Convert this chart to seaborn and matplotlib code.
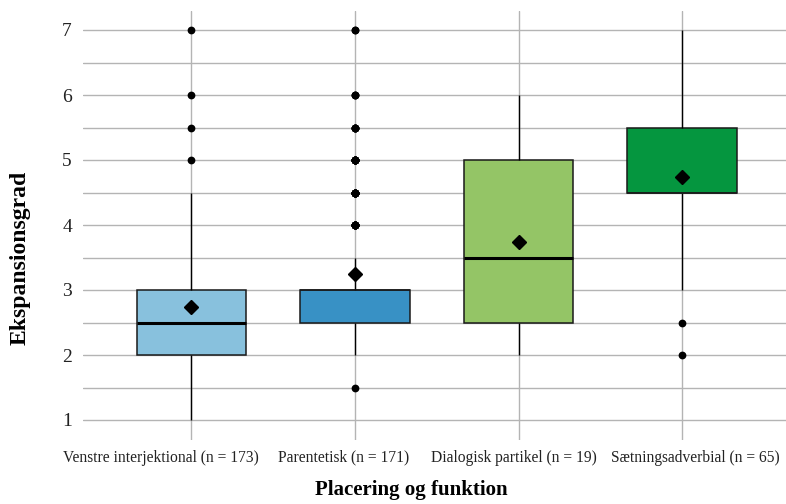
import numpy as np
import pandas as pd
import matplotlib
matplotlib.use("Agg")
import matplotlib.pyplot as plt
import seaborn as sns

# Rating scale (steps of 0.5) and how many tokens got each score per category
scale = [1, 1.5, 2, 2.5, 3, 3.5, 4, 4.5, 5, 5.5, 6, 6.5, 7]
categories = [
    "Venstre interjektional (n = 173)",
    "Parentetisk (n = 171)",
    "Dialogisk partikel (n = 19)",
    "Sætningsadverbial (n = 65)",
]
counts_venstre = [3, 7, 50, 30, 50, 10, 15, 4, 1, 1, 1, 0, 1]
counts_parentetisk = [0, 1, 15, 28, 85, 4, 9, 10, 9, 5, 3, 0, 2]
counts_dialogisk = [0, 0, 2, 4, 2, 4, 0, 1, 3, 1, 2, 0, 0]
counts_saetning = [0, 0, 1, 1, 2, 3, 6, 21, 11, 15, 3, 1, 1]
colors = ["#88C1DD", "#3891C5", "#94C566", "#05963F"]

# horizontal nudges (pixels) of the category labels so they sit side by side
label_shift = [-30, -11, -5, 13]

all_counts = [counts_venstre, counts_parentetisk, counts_dialogisk, counts_saetning]
frames = []
for cat, cnt in zip(categories, all_counts):
    vals = np.repeat(scale, cnt)
    frames.append(pd.DataFrame({"Placering": cat, "Ekspansionsgrad": vals}))
df = pd.concat(frames, ignore_index=True)

sns.set_theme(style="white")
plt.rcParams["font.family"] = ["Liberation Serif", "DejaVu Serif"]

fig = plt.figure(figsize=(7.86, 5.04), dpi=100)
ax = fig.add_axes([83 / 786, 64.5 / 504, 703 / 786, 429 / 504])

sns.boxplot(
    data=df, x="Placering", y="Ekspansionsgrad", hue="Placering",
    order=categories, hue_order=categories, palette=colors, legend=False,
    width=0.668, linecolor="#1a1a1a", linewidth=1.1, saturation=1,
    showcaps=False, showmeans=True,
    meanprops=dict(marker="D", markerfacecolor="black", markeredgecolor="black",
                   markersize=7.5),
    flierprops=dict(marker="o", markerfacecolor="black", markeredgewidth=0,
                    markersize=5.6),
    medianprops=dict(color="black", linewidth=2.2),
    whiskerprops=dict(color="black", linewidth=1.0),
    ax=ax,
)

# a median that falls on a hinge is drawn with the plain edge width
for cont in ax.containers:
    for box, med in zip(cont.boxes, cont.medians):
        ys = box.get_path().vertices[:, 1]
        my = med.get_ydata()[0]
        if np.isclose(my, ys.min()) or np.isclose(my, ys.max()):
            med.set_linewidth(1.1)
            med.set_color("#1a1a1a")

ax.set_xlim(-0.662, 3.635)
ax.set_ylim(0.7, 7.3)
ax.set_yticks([1, 2, 3, 4, 5, 6, 7])
ax.set_yticks(np.arange(1.5, 7, 1.0), minor=True)
ax.set_axisbelow(True)
ax.grid(True, which="both", axis="y", color="#b4b4b4", linewidth=1.0)
ax.grid(True, which="major", axis="x", color="#b4b4b4", linewidth=1.0)
for s in ax.spines.values():
    s.set_visible(False)
ax.tick_params(axis="y", which="both", length=0, pad=8, labelsize=14, labelcolor="#222222")
ax.tick_params(axis="x", length=0)
ax.set_xticks(range(len(categories)))
ax.set_xticklabels([])
for i, (cat, dx) in enumerate(zip(categories, label_shift)):
    ax.annotate(cat, xy=(i, 0), xycoords=("data", "axes fraction"),
                xytext=(dx, -10), textcoords="offset pixels",
                ha="center", va="top", fontsize=11.2, color="#222222")

ax.set_xlabel("Placering og funktion", fontsize=15, fontweight="bold", color="black")
ax.set_ylabel("Ekspansionsgrad", fontsize=17, fontweight="bold", color="black")
ax.xaxis.set_label_coords((411 - 83) / 703, (439.5 - 480) / 429)
ax.yaxis.set_label_coords((31 - 83) / 703, (439.5 - 258) / 429)

fig.savefig("out.png", dpi=100)
